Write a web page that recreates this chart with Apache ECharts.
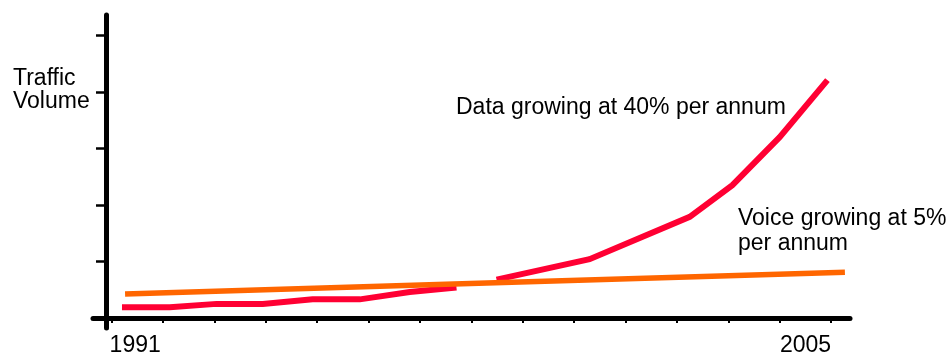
<!DOCTYPE html>
<html>
<head>
<meta charset="utf-8">
<title>Traffic Volume</title>
<script src="https://cdn.jsdelivr.net/npm/echarts@6/dist/echarts.min.js"></script>
<style>
  html, body { margin: 0; padding: 0; background: #ffffff; }
  #chart { width: 948px; height: 352px; }
</style>
</head>
<body>
<div id="chart"></div>
<script>
// Year ticks along the time axis, and the two labelled years
const tickYears = [1991, 1992, 1993, 1994, 1995, 1996, 1997, 1998, 1999, 2000, 2001, 2002, 2003, 2004, 2005];
const labelYears = [1991, 2005];
// Unlabelled volume ticks on the vertical axis
const volumeTicks = [1, 2, 3, 4, 5];

// Data traffic (null marks the break in the line)
const dataYears = [1991.20, 1992.13, 1993.04, 1993.94, 1994.91, 1995.83, 1996.80, 1997.71, 1998.10, 1998.49, 2000.30, 2002.25, 2003.08, 2004.00, 2004.93];
const dataVolume = [0.19, 0.19, 0.25, 0.25, 0.33, 0.33, 0.46, 0.54, null, 0.68, 1.04, 1.79, 2.35, 3.20, 4.21];

// Voice traffic
const voiceYears = [1991.26, 1998.30, 2005.27];
const voiceVolume = [0.425, 0.62, 0.81];

const FONT = '"Liberation Sans", Arial, Helvetica, sans-serif';

function pairs(xs, ys) {
  return xs.map((x, i) => [x, ys[i] === null ? '-' : ys[i]]);
}

const chart = echarts.init(document.getElementById('chart'), null, { renderer: 'canvas' });

chart.setOption({
  animation: false,
  backgroundColor: '#ffffff',
  grid: { left: 93, top: 15, width: 757, height: 313, containLabel: false, outerBoundsMode: 'none' },
  xAxis: {
    type: 'value',
    min: 1990.636,
    max: 2005.369,
    splitLine: { show: false },
    axisLine: { show: true, onZero: true, lineStyle: { color: '#000000', width: 5 } },
    axisTick: {
      show: true,
      customValues: tickYears,
      length: 5,
      lineStyle: { color: '#000000', width: 2 }
    },
    axisLabel: {
      show: true,
      customValues: labelYears,
      margin: 6,
      color: '#000000',
      fontFamily: FONT,
      fontSize: 23,
      formatter: function (v) {
        return v === labelYears[0] ? '{first|' + v + '}' : '{last|' + v + '}';
      },
      rich: {
        first: { fontFamily: FONT, fontSize: 23, color: '#000000', padding: [0, 0, 0, 47] },
        last: { fontFamily: FONT, fontSize: 23, color: '#000000', padding: [0, 51, 0, 0] }
      }
    }
  },
  yAxis: {
    type: 'value',
    min: -0.177,
    max: 5.363,
    offset: -13,
    splitLine: { show: false },
    axisLine: { show: true, onZero: false, lineStyle: { color: '#000000', width: 5 } },
    axisTick: {
      show: true,
      customValues: volumeTicks,
      length: 10,
      lineStyle: { color: '#000000', width: 2.5 }
    },
    axisLabel: { show: false }
  },
  series: [
    {
      name: 'Data',
      type: 'line',
      data: pairs(dataYears, dataVolume),
      showSymbol: false,
      connectNulls: false,
      lineStyle: { color: '#ff0033', width: 6, cap: 'butt', join: 'miter' },
      z: 2
    },
    {
      name: 'Voice',
      type: 'line',
      data: pairs(voiceYears, voiceVolume),
      showSymbol: false,
      lineStyle: { color: '#ff6600', width: 5.5, cap: 'butt' },
      z: 3
    }
  ],
  graphic: [
    {
      type: 'text',
      left: 13, top: 67,
      style: {
        text: 'Traffic\nVolume',
        font: '23px ' + FONT,
        lineHeight: 23,
        fill: '#000000'
      }
    },
    {
      type: 'text',
      left: 456, top: 96,
      style: {
        text: 'Data growing at 40% per annum',
        font: '23px ' + FONT,
        fill: '#000000'
      }
    },
    {
      type: 'text',
      left: 738, top: 206,
      style: {
        text: 'Voice growing at 5%\nper annum',
        font: '23px ' + FONT,
        lineHeight: 25,
        fill: '#000000'
      }
    }
  ]
});
</script>
</body>
</html>
